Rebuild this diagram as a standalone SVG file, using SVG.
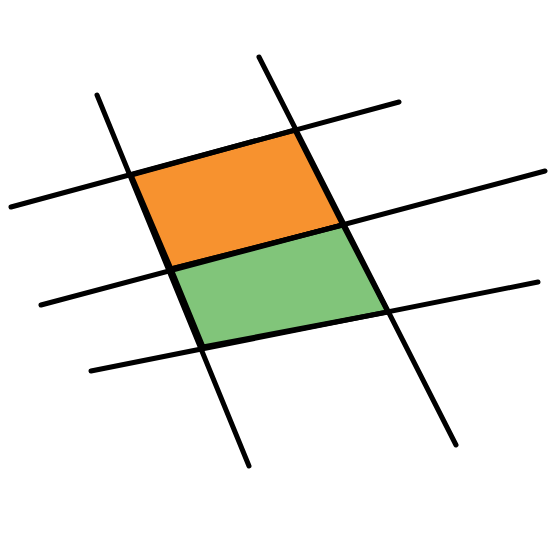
<svg xmlns="http://www.w3.org/2000/svg" width="551" height="551" viewBox="0 0 551 551">
<style>
.ln{stroke:#000;stroke-width:5;stroke-linecap:round;fill:none}
.cell{stroke:#000;stroke-width:5;stroke-linejoin:round}
</style>
<rect width="551" height="551" fill="#fff"/>
<g id="orange-cell"><polygon class="cell" fill="#F7922F" points="131,175 295,130 343,225 171,269"/></g>
<g id="green-cell"><polygon class="cell" fill="#81C57A" points="171,269 343,225 388,312 203,347"/></g>
<g id="connectors">
<line class="ln" x1="97" y1="95" x2="249" y2="466"/>
<line class="ln" x1="259" y1="57" x2="456" y2="445"/>
<line class="ln" x1="11" y1="207" x2="399" y2="102"/>
<line class="ln" x1="41" y1="305" x2="545" y2="171"/>
<line class="ln" x1="91" y1="371" x2="538" y2="282"/>
</g>
</svg>
